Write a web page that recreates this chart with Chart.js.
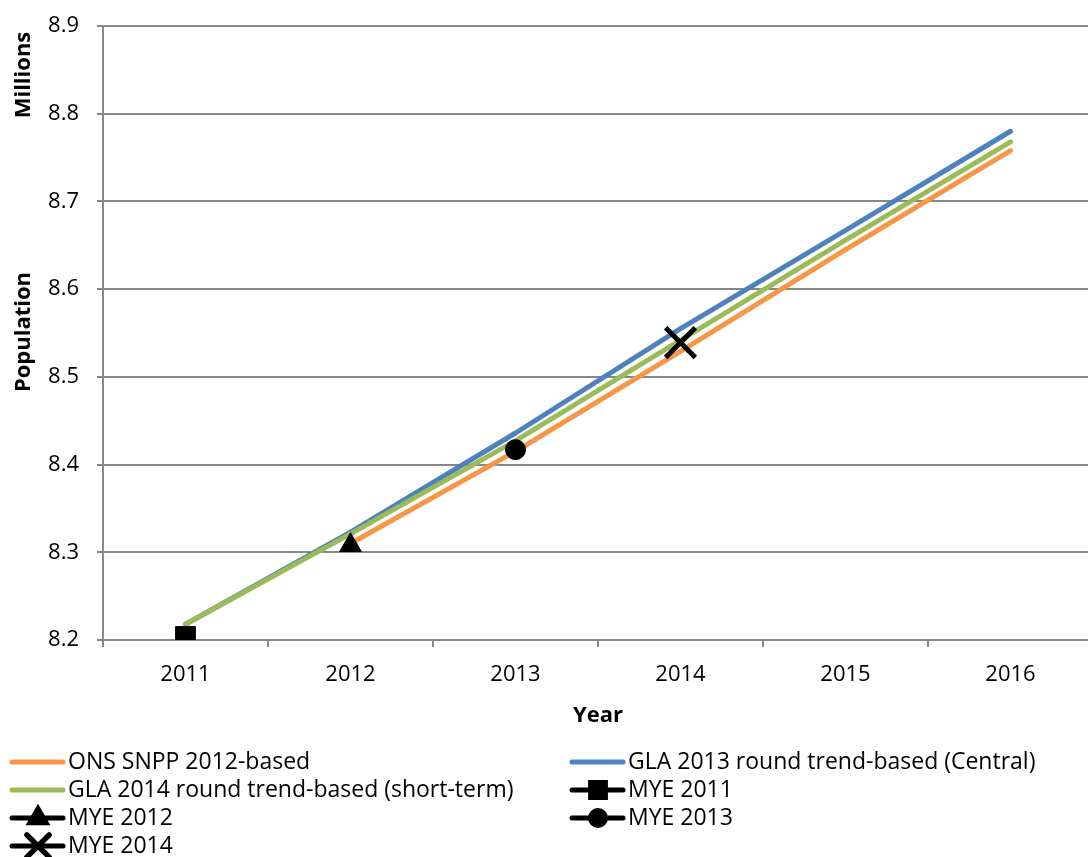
<!DOCTYPE html>
<html>
<head>
<meta charset="utf-8">
<script src="https://cdn.jsdelivr.net/npm/chart.js@4/dist/chart.umd.min.js"></script>
<style>
html,body{margin:0;padding:0;background:#fff;overflow:hidden;width:1088px;height:857px;}
#wrap{position:relative;width:1120px;height:857px;}
canvas{display:block;}
</style>
</head>
<body>
<div id="wrap"><canvas id="c" width="1120" height="857" style="width:1120px;height:857px"></canvas></div>
<script>
// ---- data ----
const years = ['2011', '2012', '2013', '2014', '2015', '2016'];
const onsSnpp2012 = [null, 8.310, 8.415, 8.529, 8.645, 8.758];
const gla2013Central = [8.218, 8.323, 8.436, 8.555, 8.667, 8.780];
const gla2014ShortTerm = [8.218, 8.321, 8.427, 8.542, 8.656, 8.768];
const myeYears = ['2011', '2012', '2013', '2014'];
const myeValues = [8.204, 8.308, 8.417, 8.539];
const yTicks = [8.2, 8.3, 8.4, 8.5, 8.6, 8.7, 8.8, 8.9];

const FONT = '"Open Sans", Lato, sans-serif';
const GRID = '#878787';

const lineDs = (label, data, color, order) => ({
  label, data, borderColor: color, backgroundColor: color, borderWidth: 5,
  pointRadius: 0, pointHoverRadius: 0, borderCapStyle: 'round', borderJoinStyle: 'round',
  spanGaps: false, tension: 0, order
});
const myeStyles = [
  {style: 'rect', r: 14, bw: 1},
  {style: 'triangle', r: 12.5, bw: 1},
  {style: 'circle', r: 10, bw: 1},
  {style: 'crossRot', r: 21, bw: 5}
];
const myeDs = myeYears.map((yr, i) => ({
  label: 'MYE ' + yr,
  data: years.map(y => y === yr ? myeValues[i] : null),
  showLine: false,
  borderColor: '#000', backgroundColor: '#000',
  pointStyle: myeStyles[i].style, pointRadius: myeStyles[i].r,
  pointBorderWidth: myeStyles[i].bw, pointHoverRadius: myeStyles[i].r,
  pointHoverBorderWidth: myeStyles[i].bw,
  order: 0
}));

const datasets = [
  lineDs('ONS SNPP 2012-based', onsSnpp2012, '#F79646', 3),
  lineDs('GLA 2013 round trend-based (Central)', gla2013Central, '#4F81BD', 2),
  lineDs('GLA 2014 round trend-based (short-term)', gla2014ShortTerm, '#9BBB59', 1),
  ...myeDs
];

const extras = {
  id: 'extras',
  afterDraw(chart) {
    const ctx = chart.ctx;
    ctx.save();
    ctx.fillStyle = '#000';
    ctx.font = 'bold 22px ' + FONT;
    ctx.textAlign = 'center';
    ctx.textBaseline = 'middle';
    ctx.fillText('Year', 598, 716);
    const rot = (t, x, y) => { ctx.save(); ctx.translate(x, y); ctx.rotate(-Math.PI / 2); ctx.fillText(t, 0, 0); ctx.restore(); };
    rot('Millions', 24, 75);
    rot('Population', 24, 332);
    // legend
    const cols = [10, 570], rows = [762, 790, 818, 846];
    ctx.font = '23px ' + FONT;
    ctx.textAlign = 'left';
    chart.data.datasets.forEach((ds, i) => {
      const x = cols[i % 2], y = rows[Math.floor(i / 2)];
      ctx.strokeStyle = ds.borderColor;
      ctx.lineWidth = 5;
      ctx.lineCap = 'round';
      ctx.beginPath(); ctx.moveTo(x + 2, y); ctx.lineTo(x + 53, y); ctx.stroke();
      if (ds.pointStyle) {
        const r = ds.pointRadius * 0.75;
        Chart.helpers.drawPoint(ctx, {pointStyle: ds.pointStyle, radius: r, borderWidth: ds.pointBorderWidth}, x + 28, y);
        ctx.fillStyle = '#000'; ctx.strokeStyle = '#000';
        ctx.lineWidth = ds.pointStyle === 'crossRot' ? 5 : 1;
        if (ds.pointStyle !== 'crossRot') ctx.fill();
        ctx.stroke();
      }
      ctx.fillStyle = '#000';
      ctx.fillText(ds.label, x + 58, y);
    });
    ctx.restore();
  }
};

new Chart(document.getElementById('c'), {
  type: 'line',
  data: { labels: years, datasets },
  plugins: [extras],
  options: {
    responsive: false, animation: false, devicePixelRatio: 1,
    layout: { padding: { top: 23, left: 0, right: 27, bottom: 0 } },
    plugins: { legend: { display: false }, tooltip: { enabled: false } },
    scales: {
      x: {
        offset: true,
        grid: { display: true, drawOnChartArea: false, offset: true, tickLength: 7, color: GRID, lineWidth: 2 },
        border: { display: true, color: GRID, width: 2 },
        ticks: { color: '#000', font: { family: FONT, size: 22 }, padding: 15, maxRotation: 0 },
        afterFit(s) { s.height = 217; s.paddingLeft = 0; s.paddingRight = 0; }
      },
      y: {
        min: 8.2, max: 8.9,
        afterBuildTicks(s) { s.ticks = yTicks.map(v => ({ value: v })); },
        grid: { color: GRID, lineWidth: 2, tickLength: 6 },
        border: { display: true, color: GRID, width: 2 },
        ticks: { color: '#000', font: { family: FONT, size: 22 }, padding: 18, callback: v => Number(v).toFixed(1) },
        afterFit(s) { s.width = 103; s.paddingTop = 0; s.paddingBottom = 0; }
      }
    }
  }
});
</script>
</body>
</html>
